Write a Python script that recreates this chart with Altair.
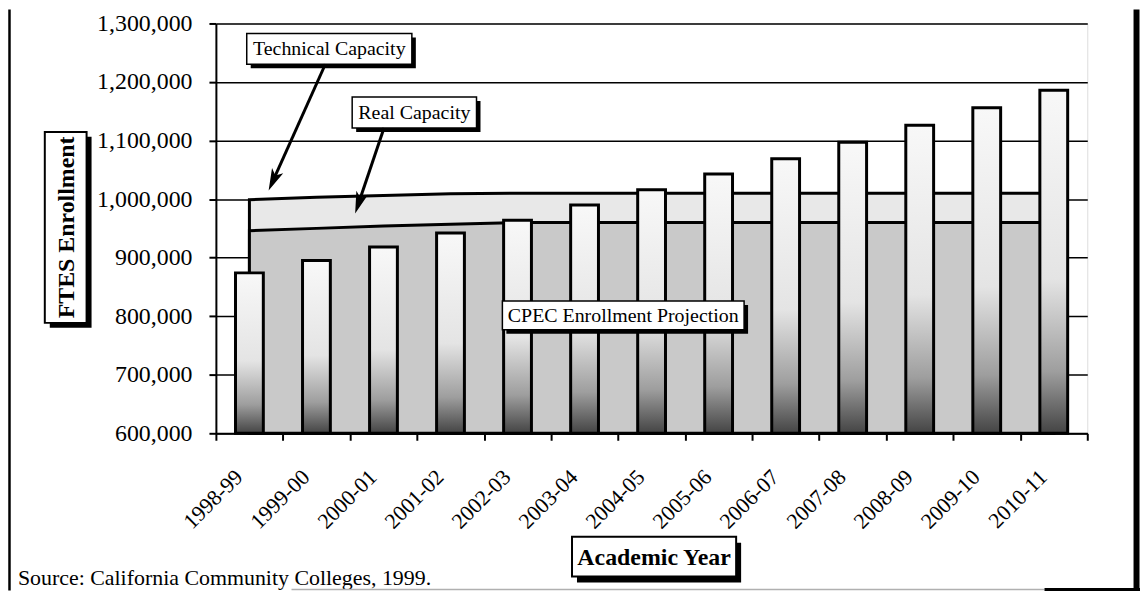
import altair as alt
import pandas as pd

# ---------------- data ----------------
years = ["1998-99", "1999-00", "2000-01", "2001-02", "2002-03", "2003-04", "2004-05",
         "2005-06", "2006-07", "2007-08", "2008-09", "2009-10", "2010-11"]
cpec_projection = [874000, 895000, 918000, 942000, 964000, 990000, 1016000,
                   1043000, 1069000, 1097000, 1126000, 1156000, 1186000]
technical_capacity = [999000, 1003000, 1006000, 1009000, 1010000, 1010000, 1010000,
                      1010000, 1010000, 1010000, 1010000, 1010000, 1010000]
real_capacity = [946000, 950000, 954000, 957000, 960000, 960000, 960000,
                 960000, 960000, 960000, 960000, 960000, 960000]
y_ticks = [600000, 700000, 800000, 900000, 1000000, 1100000, 1200000, 1300000]
y_domain = [600000, 1300000]

label_technical = "Technical Capacity"
label_real = "Real Capacity"
label_cpec = "CPEC Enrollment Projection"
title_y = "FTES Enrollment"
title_x = "Academic Year"
source_note = "Source: California Community Colleges, 1999."

df = pd.DataFrame({
    "year": years,
    "enrollment": cpec_projection,
    "technical": technical_capacity,
    "real": real_capacity,
})
one = pd.DataFrame({"k": [0]})

FONT = "Liberation Serif"
W, H = 876, 412

yscale = alt.Scale(domain=y_domain, zero=False, nice=False)
yaxis = alt.Axis(title=None, values=y_ticks, format=",d", tickSize=7, tickWidth=2,
                 tickColor="black", domainColor="black", domainWidth=2,
                 labelFont=FONT, labelFontSize=24, labelColor="black", labelPadding=17,
                 grid=True, gridColor="black", gridWidth=1.5, gridOpacity=1)
xscale = alt.Scale(paddingInner=0, paddingOuter=0)
xaxis = alt.Axis(title=None, tickBand="extent", tickSize=7, tickWidth=2, tickColor="black",
                 domainColor="black", domainWidth=2, labelAngle=315, labelAlign="right",
                 labelBaseline="middle", labelFont=FONT, labelFontSize=22, labelColor="black",
                 labelPadding=33, labelOffset=-11, grid=False)

base = alt.Chart(df)

tech_area = base.mark_area(fill="#e8e8e8", stroke="black", strokeWidth=3).encode(
    x=alt.X("year:N", sort=years, scale=xscale, axis=xaxis, bandPosition=0.5),
    y=alt.Y("technical:Q", scale=yscale, axis=yaxis),
    y2=alt.datum(600000),
)
real_area = base.mark_area(fill="#c9c9c9", stroke="black", strokeWidth=3).encode(
    x=alt.X("year:N", sort=years, scale=xscale, axis=xaxis, bandPosition=0.5),
    y=alt.Y("real:Q", scale=yscale, axis=yaxis),
    y2=alt.datum(600000),
)

bar_fill = alt.LinearGradient(
    gradient="linear", x1=0, x2=0, y1=0, y2=1,
    stops=[alt.GradientStop(color="#f8f8f8", offset=0),
           alt.GradientStop(color="#e4e4e4", offset=0.55),
           alt.GradientStop(color="#9e9e9e", offset=0.82),
           alt.GradientStop(color="#444444", offset=1)],
)
bars = base.mark_bar(width=alt.RelativeBandSize(0.415), fill=bar_fill, stroke="black",
                     strokeWidth=3).encode(
    x=alt.X("year:N", sort=years, scale=xscale, axis=xaxis),
    y=alt.Y("enrollment:Q", scale=yscale, axis=yaxis),
    y2=alt.datum(600000),
)


def boxed(x1, y1, x2, y2, sx=4, sy=4, sw=1.5):
    shadow = alt.Chart(one).mark_rect(fill="black").encode(
        x=alt.value(x1 + sx), x2=alt.value(x2 + sx),
        y=alt.value(y1 + sy), y2=alt.value(y2 + sy))
    box = alt.Chart(one).mark_rect(fill="white", stroke="black", strokeWidth=sw).encode(
        x=alt.value(x1), x2=alt.value(x2), y=alt.value(y1), y2=alt.value(y2))
    return [shadow, box]


def label(text, x, y, size=20, weight="normal", angle=0, align="center"):
    return alt.Chart(one).mark_text(text=text, font=FONT, fontSize=size, fontWeight=weight,
                                    color="black", align=align, baseline="alphabetic",
                                    angle=angle).encode(x=alt.value(x), y=alt.value(y))


ARROW = "M0,0L0.28,1L0,0.75L-0.28,1Z"


def arrow(x0, y0, x1, y1, angle):
    import math
    dx, dy = x1 - x0, y1 - y0
    n = math.hypot(dx, dy)
    ex, ey = x1 - dx / n * 14, y1 - dy / n * 14
    shaft = alt.Chart(one).mark_rule(color="black", strokeWidth=3).encode(
        x=alt.value(x0), y=alt.value(y0), x2=alt.value(ex), y2=alt.value(ey))
    head = alt.Chart(one).mark_point(shape=ARROW, size=1936, angle=angle, filled=True,
                                     color="black", opacity=1).encode(
        x=alt.value(x1), y=alt.value(y1))
    return [shaft, head]


layers = [tech_area, real_area, bars]
# annotation: Technical Capacity
layers += boxed(31, 10, 197, 41)
layers += [label(label_technical, 114, 32)]
layers += arrow(110, 41, 53, 168, 204.3)
# annotation: Real Capacity
layers += boxed(137, 74, 262, 105)
layers += [label(label_real, 199.5, 96.5)]
layers += arrow(169, 105, 140, 191, 198.7)
# annotation: CPEC
layers += boxed(288, 279, 531, 308)
layers += [label(label_cpec, 409.5, 300.5)]
# y axis title box
layers += boxed(-172, 109, -130, 301, sx=5, sy=5, sw=2)
layers += [label(title_y, -143, 205, size=24, weight="bold", angle=270)]
# x axis title box
layers += boxed(358, 516, 523, 556, sx=5, sy=6, sw=2)
layers += [label(title_x, 440.5, 544.7, size=24, weight="bold")]
# source note
layers += [label(source_note, -199, 565, size=22, align="left")]
# page frame
layers += [
    alt.Chart(one).mark_rule(color="black", strokeWidth=2.5).encode(
        x=alt.value(-207.5), y=alt.value(-14), y2=alt.value(570)),
    alt.Chart(one).mark_rule(color="black", strokeWidth=6).encode(
        x=alt.value(925.5), y=alt.value(-14), y2=alt.value(570)),
    alt.Chart(one).mark_rule(color="#b0b0b0", strokeWidth=1.5).encode(
        x=alt.value(76), x2=alt.value(833), y=alt.value(569)),
    alt.Chart(one).mark_rule(color="black", strokeWidth=3).encode(
        x=alt.value(833), x2=alt.value(929), y=alt.value(569)),
]

chart = alt.layer(*layers).properties(
    width=W, height=H,
    padding={"left": 209, "top": 14, "right": 53, "bottom": 158},
    autosize=alt.AutoSizeParams(type="none"),
).configure_view(stroke="black", strokeWidth=2).configure(background="white")

chart.save("out.html", embed_options={"renderer": "svg", "actions": False})
